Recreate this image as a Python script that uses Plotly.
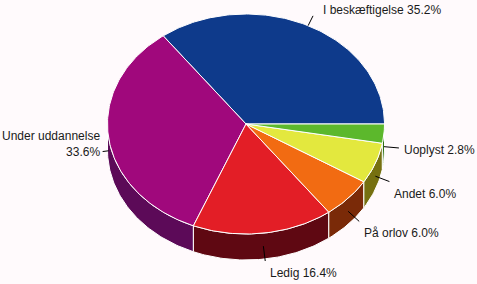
import math
import plotly.graph_objects as go

# ---- data ----
labels = ["I beskæftigelse", "Under uddannelse", "Ledig", "På orlov", "Andet", "Uoplyst"]
values = [35.2, 33.6, 16.4, 6.0, 6.0, 2.8]
label_text = ["I beskæftigelse 35.2%", "Under uddannelse<br>33.6%", "Ledig 16.4%",
              "På orlov 6.0%", "Andet 6.0%", "Uoplyst 2.8%"]

# ---- styles ----
top_colors = ["#0E3A8B", "#A0087C", "#E31E26", "#F26B12", "#E3E83E", "#5CB82C"]
side_colors = ["#071D46", "#5C0A58", "#5F0812", "#7A2A08", "#767010", "#2F6E12"]
leader_len = [11, 6, 15, 15, 15, 15]

W, H = 477, 284
CX, CY, RX, RY, DEPTH = 246, 124, 138.5, 110, 26
BG = "#FFFAFC"

total = sum(values)
starts, ends = [], []
a = 0.0
for v in values:
    starts.append(a)
    a += v / total * 360.0
    ends.append(a)


def pt(theta, dy=0.0):
    r = math.radians(theta)
    return CX + RX * math.cos(r), CY - RY * math.sin(r) + dy


def arc(a0, a1, dy=0.0):
    n = max(2, int(abs(a1 - a0) / 1.0) + 2)
    xs, ys = [], []
    for i in range(n):
        t = a0 + (a1 - a0) * i / (n - 1)
        x, y = pt(t, dy)
        xs.append(x)
        ys.append(y)
    return xs, ys


fig = go.Figure()

# side faces (front half only)
for i in range(len(values)):
    s0, s1 = max(starts[i], 180.0), min(ends[i], 360.0)
    if s1 <= s0:
        continue
    tx, ty = arc(s0, s1)
    bx, by = arc(s1, s0, DEPTH)
    fig.add_trace(go.Scatter(x=tx + bx + [tx[0]], y=ty + by + [ty[0]], mode="lines",
                             fill="toself", fillcolor=side_colors[i],
                             line=dict(color="white", width=1), hoverinfo="skip",
                             showlegend=False))

# top faces
for i in range(len(values)):
    ax_, ay_ = arc(starts[i], ends[i])
    fig.add_trace(go.Scatter(x=[CX] + ax_ + [CX], y=[CY] + ay_ + [CY], mode="lines",
                             fill="toself", fillcolor=top_colors[i],
                             line=dict(color="white", width=1), hoverinfo="skip",
                             name=labels[i], showlegend=False))

# labels with leader lines
for i in range(len(values)):
    mid = (starts[i] + ends[i]) / 2
    r = math.radians(mid)
    c, s = math.cos(r), math.sin(r)
    dy = DEPTH / 2 if s < 0 else 0
    x0, y0 = pt(mid, dy)
    L = leader_len[i]
    x1, y1 = x0 + c * L, y0 - s * L
    fig.add_trace(go.Scatter(x=[x0, x1], y=[y0, y1], mode="lines",
                             line=dict(color="black", width=1), hoverinfo="skip",
                             showlegend=False))
    if c >= 0:
        xa, tx = "left", x1 + 3
    else:
        xa, tx = "right", x1 - 1
    if abs(s) < 0.2:
        ya, ty = "middle", y1 + 2
        if c < 0:
            ya, ty = "bottom", y1 + 9
    elif s > 0:
        ya, ty, tx = "middle", y1 - 6, x1 + 8
    else:
        ya, ty = "top", y1 + 3
    fig.add_annotation(x=tx, y=ty, xref="x", yref="y", text=label_text[i],
                       showarrow=False, xanchor=xa, yanchor=ya, align="right",
                       font=dict(family="Liberation Sans, Arial, sans-serif", size=12,
                                 color="#1a1a1a"))

fig.update_layout(
    width=W, height=H, margin=dict(l=0, r=0, t=0, b=0),
    paper_bgcolor=BG, plot_bgcolor=BG,
    xaxis=dict(range=[0, W], visible=False, fixedrange=True),
    yaxis=dict(range=[H, 0], visible=False, fixedrange=True),
)

fig.write_html("out.html")
